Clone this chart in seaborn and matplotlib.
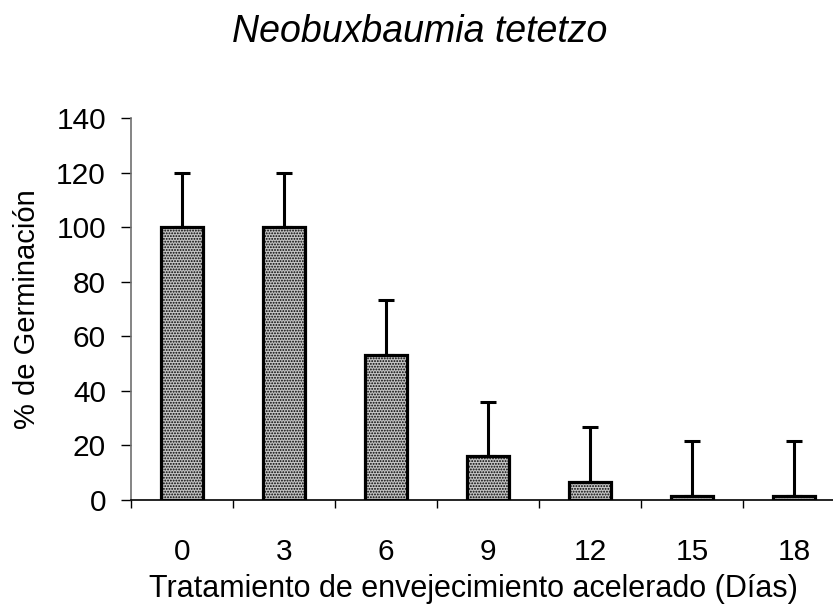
import matplotlib
matplotlib.use("Agg")
import matplotlib.pyplot as plt
import seaborn as sns
import pandas as pd
import numpy as np

# Germination after accelerated ageing
dias = ["0", "3", "6", "9", "12", "15", "18"]
germinacion = [100, 100, 53.3, 16, 6.7, 1.5, 1.5]
error_sup = [20, 20, 20, 20, 20, 20, 20]

sns.set_style("white")
plt.rcParams["font.family"] = ["Liberation Sans", "DejaVu Sans"]
plt.rcParams["text.color"] = "black"
plt.rcParams["axes.labelcolor"] = "black"
plt.rcParams["xtick.color"] = "black"
plt.rcParams["ytick.color"] = "black"
plt.rcParams["hatch.color"] = "#454545"
plt.rcParams["hatch.linewidth"] = 0.9

df = pd.DataFrame({"dias": dias, "germ": germinacion})

fig = plt.figure(figsize=(8.33, 6.10), dpi=100)
ax = fig.add_axes([131 / 833, 1 - 500 / 610, (845 - 131) / 833, (500 - 118) / 610])

sns.barplot(data=df, x="dias", y="germ", ax=ax, color="#c4c4c4",
            width=0.42, errorbar=None, saturation=1,
            edgecolor="black", linewidth=2.3, zorder=2)
for p in ax.patches:
    p.set_hatch("......")

pos = np.arange(len(dias))
ax.errorbar(pos, germinacion, yerr=[np.zeros(len(dias)), error_sup],
            fmt="none", ecolor="black", elinewidth=2.2, capsize=5.5,
            capthick=2.2, zorder=1)

ax.set_xlim(-0.5, 6.5)
ax.set_ylim(0, 140)
ax.set_yticks(np.arange(0, 141, 20))
ax.set_xticks(pos)
ax.set_xticklabels(dias)
ax.set_xticks(np.arange(-0.5, 6.6, 1), minor=True)

ax.tick_params(axis="x", which="major", length=0, pad=27, labelsize=21.5)
ax.tick_params(axis="x", which="minor", length=6, width=1, color="black",
               direction="out", bottom=True)
ax.tick_params(axis="y", length=7, width=1, color="black", direction="out",
               left=True, labelsize=21.5, pad=11)

sns.despine(ax=ax, top=True, right=True)
ax.spines["left"].set_color("#707070")
ax.spines["left"].set_linewidth(1.2)
ax.spines["bottom"].set_color("black")
ax.spines["bottom"].set_linewidth(1.2)

ax.set_xlabel("Tratamiento de envejecimiento acelerado (Días)", fontsize=22,
              labelpad=6)
ax.xaxis.label.set_x((473 - 131) / 714)
ax.set_ylabel("% de Germinación", fontsize=21, labelpad=11)

fig.text(420 / 833, 1 - 42 / 610, "Neobuxbaumia tetetzo", fontsize=27,
         style="italic", ha="center", va="baseline")

fig.savefig("out.png", dpi=100)
